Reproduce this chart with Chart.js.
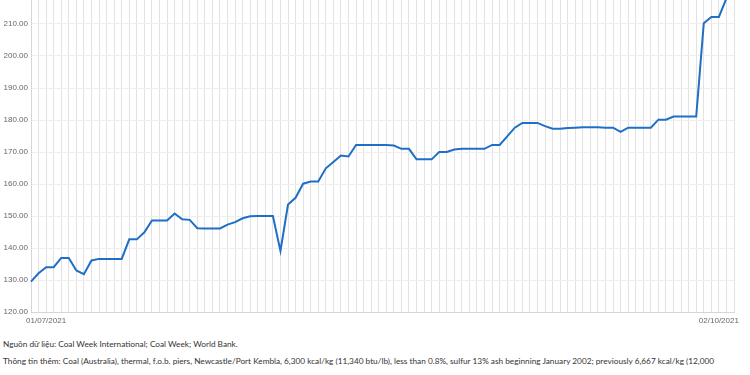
<!DOCTYPE html>
<html>
<head>
<meta charset="utf-8">
<script src="https://cdn.jsdelivr.net/npm/chart.js@4"></script>
<style>
  html, body { margin: 0; padding: 0; width: 750px; height: 375px; overflow: hidden; background: #fff; }
  #wrap { position: absolute; left: 0; top: -18px; width: 750px; height: 350px; }
  .note { position: absolute; left: 3px; font-family: Lato, "Open Sans", sans-serif; font-size: 8.25px; color: #333; white-space: nowrap; }
</style>
</head>
<body>
<div id="wrap"><canvas id="c"></canvas></div>
<div class="note" style="top:339px">Nguồn dữ liệu: Coal Week International; Coal Week; World Bank.</div>
<div class="note" style="top:356px">Thông tin thêm: Coal (Australia), thermal, f.o.b. piers, Newcastle/Port Kembla, 6,300 kcal/kg (11,340 btu/lb), less than 0.8%, sulfur 13% ash beginning January 2002; previously 6,667 kcal/kg (12,000</div>
<script>
// daily dates shown on the x axis
var days = [
  "01/07/2021","02/07/2021","03/07/2021","04/07/2021","05/07/2021","06/07/2021","07/07/2021","08/07/2021","09/07/2021","10/07/2021",
  "11/07/2021","12/07/2021","13/07/2021","14/07/2021","15/07/2021","16/07/2021","17/07/2021","18/07/2021","19/07/2021","20/07/2021",
  "21/07/2021","22/07/2021","23/07/2021","24/07/2021","25/07/2021","26/07/2021","27/07/2021","28/07/2021","29/07/2021","30/07/2021",
  "31/07/2021","01/08/2021","02/08/2021","03/08/2021","04/08/2021","05/08/2021","06/08/2021","07/08/2021","08/08/2021","09/08/2021",
  "10/08/2021","11/08/2021","12/08/2021","13/08/2021","14/08/2021","15/08/2021","16/08/2021","17/08/2021","18/08/2021","19/08/2021",
  "20/08/2021","21/08/2021","22/08/2021","23/08/2021","24/08/2021","25/08/2021","26/08/2021","27/08/2021","28/08/2021","29/08/2021",
  "30/08/2021","31/08/2021","01/09/2021","02/09/2021","03/09/2021","04/09/2021","05/09/2021","06/09/2021","07/09/2021","08/09/2021",
  "09/09/2021","10/09/2021","11/09/2021","12/09/2021","13/09/2021","14/09/2021","15/09/2021","16/09/2021","17/09/2021","18/09/2021",
  "19/09/2021","20/09/2021","21/09/2021","22/09/2021","23/09/2021","24/09/2021","25/09/2021","26/09/2021","27/09/2021","28/09/2021",
  "29/09/2021","30/09/2021","01/10/2021","02/10/2021"
];

// coal price, USD/t
var price = [
  129.5, 132.1, 134.0, 134.0, 136.9, 136.9, 133.0, 131.8, 136.1, 136.6,
  136.6, 136.6, 136.6, 142.7, 142.7, 144.9, 148.6, 148.6, 148.6, 150.8,
  149.0, 148.8, 146.2, 146.1, 146.1, 146.1, 147.3, 148.1, 149.3, 149.9,
  150.0, 150.0, 150.0, 139.1, 153.6, 155.7, 160.1, 160.8, 160.8, 164.9,
  166.9, 168.9, 168.6, 172.2, 172.2, 172.2, 172.2, 172.2, 172.0, 171.0,
  171.0, 167.7, 167.7, 167.7, 170.0, 170.0, 170.8, 171.0, 171.0, 171.0,
  171.0, 172.2, 172.2, 174.9, 177.6, 179.1, 179.1, 179.1, 178.1, 177.3,
  177.3, 177.5, 177.6, 177.7, 177.7, 177.7, 177.6, 177.6, 176.3, 177.6,
  177.6, 177.6, 177.6, 180.1, 180.1, 181.1, 181.1, 181.1, 181.1, 210.2,
  212.2, 212.2, 218.0, 226.0
];

var yMin = 120;
var yMax = 220;
var yStep = 10;

// where the first / last date text sits under the axis
var firstLabelTick = 2;
var lastLabelTick = 91;

var ctx = document.getElementById("c").getContext('2d');

var chart = new Chart(ctx, {
    type: 'line',
    data: {
        labels: days,
        datasets: [{
            data: price,
            borderColor: '#1f6fc6',
            borderWidth: 2,
            pointRadius: 0,
            tension: 0,
            fill: false
        }]
    },
    options: {
        responsive: true,
        maintainAspectRatio: false,
        animation: false,
        layout: { padding: { top: 10, right: 16, left: 0, bottom: 0 } },
        plugins: {
            legend: { display: false },
            tooltip: { enabled: false }
        },
        scales: {
            x: {
                offset: false,
                grid: { color: '#e2e2e2', drawTicks: false },
                border: { color: '#d6d6d6' },
                afterFit: function(scale) { scale.height = 20; },
                ticks: {
                    autoSkip: false,
                    maxRotation: 0,
                    padding: 4,
                    color: '#666',
                    font: { family: 'Liberation Sans', size: 8 },
                    callback: function(val, i) {
                        if (i === firstLabelTick) return days[0];
                        if (i === lastLabelTick) return days[days.length - 1];
                        return '';
                    }
                }
            },
            y: {
                min: yMin,
                max: yMax,
                grid: { color: '#eeeeee', drawTicks: false },
                border: { color: '#d6d6d6' },
                afterFit: function(scale) { scale.width = 31; },
                ticks: {
                    stepSize: yStep,
                    padding: 3,
                    color: '#666',
                    font: { family: 'Liberation Sans', size: 8 },
                    callback: function(v) { return v.toFixed(2); }
                }
            }
        }
    }
});
</script>
</body>
</html>
